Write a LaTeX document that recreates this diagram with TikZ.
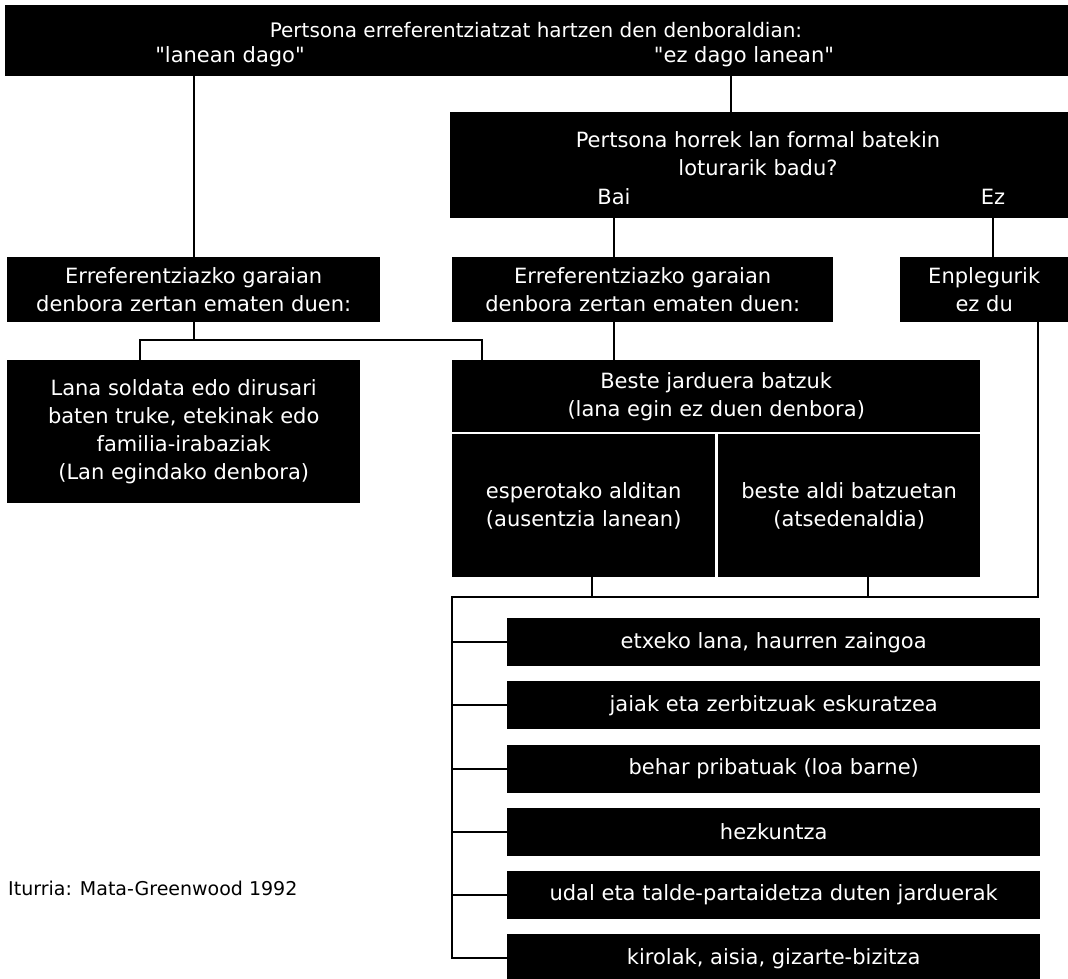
\documentclass[tikz,border=0pt]{standalone}
\usepackage{fontspec}
\newfontfamily\diagfont{DejaVu Sans}
\usetikzlibrary{positioning}

\begin{document}
\begin{tikzpicture}[x=1pt,y=-1pt,node distance=14.8pt,
        font=\diagfont\fontsize{21}{28}\selectfont,
        blackbox/.style={fill=black,text=white,inner sep=0pt,anchor=north west,align=center},
        bar/.style={blackbox,minimum width=533pt,minimum height=48pt},
        wtext/.style={text=white,inner sep=0pt},
        small/.style={font=\diagfont\fontsize{19}{28}\selectfont},
        conn/.style={line width=2pt}]
        \useasboundingbox (0,0) rectangle (1068,978);
        % top question
        \node[blackbox,minimum width=1063pt,minimum height=71pt] (top) at (5,5) {};
        \node[wtext,font=\diagfont\fontsize{20}{28}\selectfont] (toptxt) at (536,30) {Pertsona erreferentziatzat hartzen den denboraldian:};
        \node[wtext] (lanean) at (230,57) {"lanean dago"};
        \node[wtext] (ezlanean) at (744,57) {"ez dago lanean"};
        % formal job?
        \node[blackbox,minimum width=618pt,minimum height=106pt] (formal) at (450,112) {};
        \node[wtext,align=center] (formaltxt) at (758,154) {Pertsona horrek lan formal batekin\\loturarik badu?};
        \node[wtext] (bai) at (614,197) {Bai};
        \node[wtext] (ez) at (993,197) {Ez};
        % time use
        \node[blackbox,minimum width=373pt,minimum height=65pt] (erref1) at (7,257) {Erreferentziazko garaian\\denbora zertan ematen duen:};
        \node[blackbox,minimum width=381pt,minimum height=65pt] (erref2) at (452,257) {Erreferentziazko garaian\\denbora zertan ematen duen:};
        \node[blackbox,minimum width=168pt,minimum height=65pt] (enpl) at (900,257) {Enplegurik\\ez du};
        \node[blackbox,minimum width=353pt,minimum height=143pt] (lana) at (7,360) {Lana soldata edo dirusari\\baten truke, etekinak edo\\familia-irabaziak\\(Lan egindako denbora)};
        \node[blackbox,minimum width=528pt,minimum height=72pt] (beste) at (452,360) {Beste jarduera batzuk\\(lana egin ez duen denbora)};
        \node[blackbox,minimum width=263pt,minimum height=143pt] (espero) at (452,434) {esperotako alditan\\(ausentzia lanean)};
        \node[blackbox,minimum width=262pt,minimum height=143pt] (aldi) at (718,434) {beste aldi batzuetan\\(atsedenaldia)};
        % other activities
        \node[bar] (b1) at (507,618) {etxeko lana, haurren zaingoa};
        \node[bar,below=of b1] (b2) {jaiak eta zerbitzuak eskuratzea};
        \node[bar,below=of b2] (b3) {behar pribatuak (loa barne)};
        \node[bar,below=of b3] (b4) {hezkuntza};
        \node[bar,below=of b4] (b5) {udal eta talde-partaidetza duten jarduerak};
        \node[bar,below=of b5] (b6) {kirolak, aisia, gizarte-bizitza};
        \node[small,anchor=west,inner sep=0pt] (iturria) at (8,888) {Iturria: Mata-Greenwood 1992};
        % connectors
        \coordinate (ezpt) at (731,112);
        \coordinate (jL) at (140,340);
        \coordinate (jR) at (482,340);
        \coordinate (busL) at (452,597);
        \coordinate (busR) at (1038,597);
        \draw[conn] (erref1.north) -- (erref1.north |- top.south);
        \draw[conn] (ezpt) -- (ezpt |- top.south);
        \draw[conn] (formal.south -| bai) -- (erref2.north -| bai);
        \draw[conn] (formal.south -| ez) -- (enpl.north -| ez);
        \draw[conn] (erref1.south) |- (jL) -- (jL |- lana.north);
        \draw[conn] (erref1.south) |- (jR) -- (jR |- beste.north);
        \draw[conn] (erref2.south -| bai) -- (beste.north -| bai);
        \draw[conn] ([xshift=8pt]espero.south) -- ([xshift=8pt]espero.south |- busL);
        \draw[conn] ([xshift=19pt]aldi.south) -- ([xshift=19pt]aldi.south |- busL);
        \draw[conn] (enpl.south -| busR) -- (busR) -- (busL) -- (busL |- b6.west) -- (b6.west);
        \draw[conn] (b1.west) -- (b1.west -| busL);
        \draw[conn] (b2.west) -- (b2.west -| busL);
        \draw[conn] (b3.west) -- (b3.west -| busL);
        \draw[conn] (b4.west) -- (b4.west -| busL);
        \draw[conn] (b5.west) -- (b5.west -| busL);
\end{tikzpicture}
\end{document}
